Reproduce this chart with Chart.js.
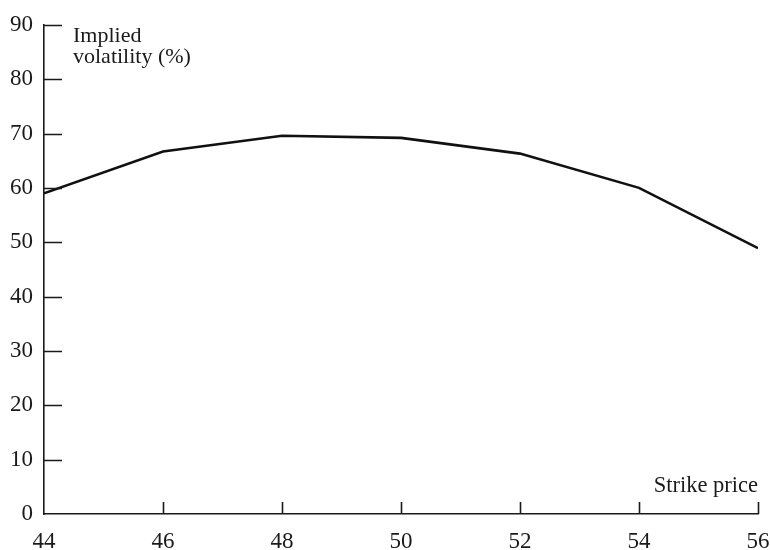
<!DOCTYPE html>
<html>
<head>
<meta charset="utf-8">
<script src="https://cdn.jsdelivr.net/npm/chart.js@4/dist/chart.umd.min.js"></script>
<style>
  html, body { margin: 0; padding: 0; background: #fff; }
  #wrap { width: 770px; height: 550px; position: relative; }
</style>
</head>
<body>
<div id="wrap"><canvas id="c" width="770" height="550"></canvas></div>
<script>
// ---- Data ----
const strikes = [44, 46, 48, 50, 52, 54, 56];
const impliedVol = [59.0, 66.7, 69.6, 69.2, 66.3, 60.0, 48.9];
const xTickValues = [44, 46, 48, 50, 52, 54, 56];
const yTickValues = [0, 10, 20, 30, 40, 50, 60, 70, 80, 90];
const yTitleLines = ['Implied', 'volatility (%)'];
const xTitle = 'Strike price';

const FONT = '"Liberation Serif", "Times New Roman", serif';
const INK = '#1a1a1a';

const innerTicks = {
  id: 'innerTicks',
  afterDatasetsDraw(chart) {
    const ctx = chart.ctx;
    const xs = chart.scales.x, ys = chart.scales.y;
    const ca = chart.chartArea;
    ctx.save();
    ctx.strokeStyle = INK;
    ctx.lineWidth = 1.6;
    ctx.beginPath();
    yTickValues.forEach(v => {
      if (v === ys.min) return;
      const py = Math.round(ys.getPixelForValue(v)) + 0.5;
      ctx.moveTo(ca.left, py);
      ctx.lineTo(ca.left + 18, py);
    });
    xTickValues.forEach(v => {
      if (v === xs.min) return;
      const px = Math.round(xs.getPixelForValue(v)) + 0.5;
      ctx.moveTo(px, ca.bottom);
      ctx.lineTo(px, ca.bottom - 12);
    });
    ctx.stroke();
    // axis titles
    ctx.fillStyle = INK;
    ctx.font = '22px ' + FONT;
    ctx.textAlign = 'left';
    ctx.textBaseline = 'alphabetic';
    ctx.fillText(yTitleLines[0], ca.left + 29, ca.top + 17);
    ctx.fillText(yTitleLines[1], ca.left + 29, ca.top + 38);
    ctx.textAlign = 'right';
    ctx.font = '22.5px ' + FONT;
    ctx.fillText(xTitle, ca.right, ca.bottom - 22);
    ctx.restore();
  }
};

new Chart(document.getElementById('c'), {
  type: 'line',
  data: {
    datasets: [{
      data: strikes.map((s, i) => ({ x: s, y: impliedVol[i] })),
      borderColor: '#111',
      borderWidth: 2.6,
      pointRadius: 0,
      tension: 0,
      fill: false
    }]
  },
  options: {
    responsive: false,
    animation: false,
    devicePixelRatio: 1,
    layout: { padding: { top: 24, right: 0, left: 0, bottom: 0 } },
    plugins: { legend: { display: false }, tooltip: { enabled: false } },
    scales: {
      x: {
        type: 'linear',
        min: 44, max: 56,
        afterBuildTicks: s => { s.ticks = xTickValues.map(v => ({ value: v })); },
        afterFit: s => { s.height = 36; s.paddingRight = 12; s.paddingLeft = 0; },
        grid: { display: true, drawOnChartArea: false, drawTicks: false },
        border: { display: true, color: INK, width: 1.6 },
        ticks: { color: INK, font: { family: FONT, size: 23 }, padding: 14, maxRotation: 0, autoSkip: false }
      },
      y: {
        type: 'linear',
        min: 0, max: 90,
        afterBuildTicks: s => { s.ticks = yTickValues.map(v => ({ value: v })); },
        afterFit: s => { s.width = 44; },
        grid: { display: true, drawOnChartArea: false, drawTicks: false },
        border: { display: true, color: INK, width: 1.6 },
        ticks: { color: INK, font: { family: FONT, size: 23 }, padding: 11, autoSkip: false }
      }
    }
  },
  plugins: [innerTicks]
});
</script>
</body>
</html>
